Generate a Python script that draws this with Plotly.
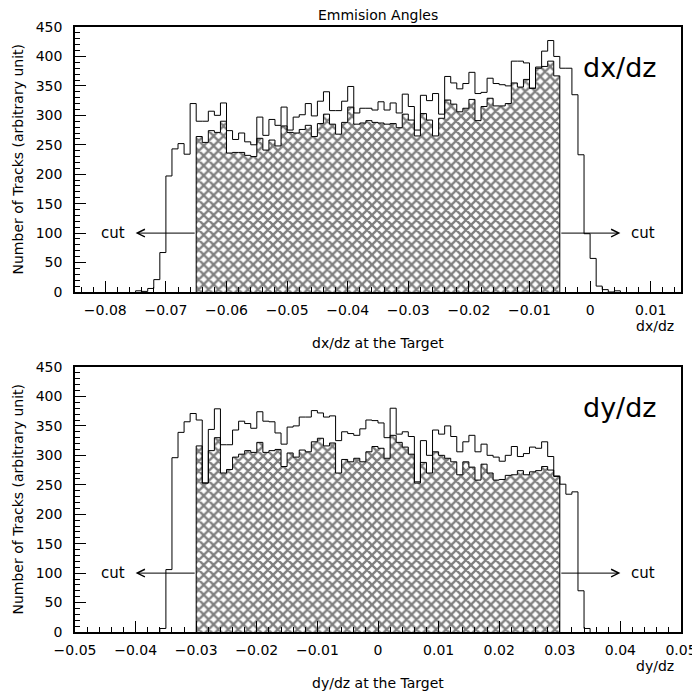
import plotly.graph_objects as go

BIN_W = 0.001

# ---- top panel: dx/dz (all tracks, and tracks inside the cut window) ----
dx_all_start = -0.075
dx_all = [2, 1, 6, 21, 67, 197, 243, 252, 234, 320,
          290, 290, 307, 300, 321, 274, 259, 270, 255, 250,
          297, 266, 293, 283, 314, 275, 297, 301, 320, 299,
          324, 340, 308, 308, 324, 349, 304, 312, 312, 309,
          323, 309, 321, 304, 336, 315, 275, 334, 325, 337,
          302, 366, 355, 345, 354, 373, 337, 339, 363, 354,
          352, 350, 392, 392, 389, 346, 382, 409, 427, 400,
          380, 380, 335, 233, 99, 57, 10, 4, 0, 2]
dx_cut_start = -0.065
dx_cut = [264, 254, 274, 271, 290, 236, 237, 237, 232, 230,
          261, 241, 258, 248, 282, 271, 270, 276, 283, 264,
          286, 302, 285, 268, 288, 314, 285, 287, 291, 288,
          287, 285, 286, 279, 302, 292, 265, 303, 292, 265,
          295, 326, 319, 306, 312, 327, 291, 315, 329, 316,
          316, 320, 355, 348, 361, 346, 380, 383, 392, 367]
dx_cut_lo, dx_cut_hi = -0.065, -0.005
dx_range = [-0.085, 0.015]
dx_ticks = [-0.08, -0.07, -0.06, -0.05, -0.04, -0.03, -0.02, -0.01, 0, 0.01]

# ---- bottom panel: dy/dz ----
dy_all_start = -0.036
dy_all = [6, 106, 296, 339, 357, 371,
          360, 253, 344, 379, 318, 318, 343, 358, 354, 346,
          374, 358, 357, 338, 319, 348, 350, 365, 365, 376,
          372, 365, 367, 325, 340, 337, 334, 345, 360, 359,
          355, 330, 380, 336, 340, 332, 255, 325, 300, 343,
          336, 350, 332, 306, 323, 334, 306, 319, 300, 297,
          290, 300, 315, 298, 303, 314, 312, 323, 298, 265,
          251, 234, 238, 70, 6]
dy_cut_start = -0.030
dy_cut = [316, 253, 308, 330, 270, 276, 297, 302, 308, 305,
          322, 305, 308, 310, 281, 304, 297, 309, 306, 323,
          329, 316, 321, 270, 293, 289, 295, 289, 306, 315,
          312, 295, 334, 322, 314, 302, 253, 288, 270, 306,
          300, 295, 289, 267, 289, 280, 258, 285, 270, 258,
          259, 266, 267, 274, 267, 272, 274, 281, 275, 264]
dy_cut_lo, dy_cut_hi = -0.03, 0.03
dy_range = [-0.05, 0.05]
dy_ticks = [-0.05, -0.04, -0.03, -0.02, -0.01, 0, 0.01, 0.02, 0.03, 0.04, 0.05]

y_ticks = [0, 50, 100, 150, 200, 250, 300, 350, 400, 450]
ARROW_Y = 100
ARROW_LEN = 0.01

FONT = "DejaVu Sans"

# the page body adds an 8px offset, so the figure is 8px smaller than the window
PAGE_OFF = 8


def step_xy(start, values):
    xs, ys = [start], [0]
    for i, v in enumerate(values):
        xs.append(round(start + i * BIN_W, 6))
        ys.append(v)
    end = round(start + len(values) * BIN_W, 6)
    xs += [end, end]
    ys += [values[-1], 0]
    return xs, ys


fig = go.Figure()

hatch = dict(shape="x", size=7, solidity=0.55, fgcolor="black", bgcolor="white")

for (cs, cv, a_s, av, xa, ya) in [
    (dx_cut_start, dx_cut, dx_all_start, dx_all, "x", "y"),
    (dy_cut_start, dy_cut, dy_all_start, dy_all, "x2", "y2"),
]:
    cx, cy = step_xy(cs, cv)
    fig.add_trace(go.Scatter(x=cx, y=cy, mode="lines",
                             line=dict(color="black", width=1, shape="hv"),
                             fill="tozeroy", fillpattern=hatch,
                             xaxis=xa, yaxis=ya, showlegend=False, hoverinfo="skip"))
    axx, axy = step_xy(a_s, av)
    fig.add_trace(go.Scatter(x=axx, y=axy, mode="lines",
                             line=dict(color="black", width=1, shape="hv"),
                             xaxis=xa, yaxis=ya, showlegend=False, hoverinfo="skip"))


def xaxis_cfg(rng, ticks, anchor):
    return dict(range=[rng[0] - 1e-9, rng[1] + 1e-9], tickvals=ticks,
                ticks="inside", ticklen=11, tickcolor="black", tickwidth=1,
                minor=dict(ticks="inside", ticklen=5, dtick=0.002, tick0=ticks[0],
                           tickcolor="black", tickwidth=1),
                showline=True, mirror=True, linecolor="black", linewidth=1.5,
                showgrid=False, zeroline=False, anchor=anchor,
                tickfont=dict(family=FONT, size=14, color="black"),
                ticklabelstandoff=4, automargin=False)


def yaxis_cfg(domain, anchor):
    return dict(range=[0, 450], tickvals=y_ticks, domain=domain,
                ticks="inside", ticklen=11, tickcolor="black", tickwidth=1,
                minor=dict(ticks="inside", ticklen=5, dtick=10, tick0=0,
                           tickcolor="black", tickwidth=1),
                showline=True, mirror=True, linecolor="black", linewidth=1.5,
                showgrid=False, zeroline=False, anchor=anchor,
                tickfont=dict(family=FONT, size=14, color="black"),
                ticklabelstandoff=8, automargin=False)


fig.update_layout(
    width=700 - PAGE_OFF, height=692 - PAGE_OFF,
    margin=dict(l=75 - PAGE_OFF, r=19, t=27 - PAGE_OFF, b=60),
    paper_bgcolor="white", plot_bgcolor="white",
    font=dict(family=FONT, size=14, color="black"),
    xaxis=xaxis_cfg(dx_range, dx_ticks, "y"),
    yaxis=yaxis_cfg([0.562, 1.0], "x"),
    xaxis2=xaxis_cfg(dy_range, dy_ticks, "y2"),
    yaxis2=yaxis_cfg([0.0, 0.438], "x2"),
)

ann = []
txt = dict(family=FONT, size=14, color="black")
ann.append(dict(text="Emmision Angles", xref="paper", yref="paper", x=0.5, y=1,
                yshift=12, showarrow=False, font=txt, xanchor="center", yanchor="middle"))

panels = [
    ("x", "y", "dx/dz", dx_cut_lo, dx_cut_hi),
    ("x2", "y2", "dy/dz", dy_cut_lo, dy_cut_hi),
]
for xa, ya, name, lo, hi in panels:
    # big label
    ann.append(dict(text=name, xref=xa + " domain", yref=ya + " domain",
                    x=0.899, y=0.849, showarrow=False, xanchor="center", yanchor="middle",
                    font=dict(family=FONT, size=27, color="black")))
    # axis labels
    ann.append(dict(text=name, xref=xa + " domain", yref=ya + " domain",
                    x=0.957, y=0, yshift=-34, showarrow=False, font=txt,
                    xanchor="center", yanchor="middle"))
    ann.append(dict(text=name + " at the Target", xref=xa + " domain", yref=ya + " domain",
                    x=0.5, y=0, yshift=-51, showarrow=False, font=txt,
                    xanchor="center", yanchor="middle"))
    ann.append(dict(text="Number of Tracks (arbitrary unit)", xref="paper", yref=ya + " domain",
                    x=0, xshift=-57, y=0.5, textangle=-90, showarrow=False, font=txt,
                    xanchor="center", yanchor="middle"))
    # cut arrows
    for edge, sign in [(lo, -1), (hi, 1)]:
        ann.append(dict(text="", x=edge + sign * ARROW_LEN, y=ARROW_Y, ax=edge, ay=ARROW_Y,
                        xref=xa, yref=ya, axref=xa, ayref=ya, showarrow=True,
                        arrowhead=5, arrowsize=1.5, arrowwidth=1, arrowcolor="black",
                        standoff=0, startstandoff=0))
        ann.append(dict(text="cut", x=edge + sign * (ARROW_LEN + 0.0037), y=ARROW_Y,
                        xref=xa, yref=ya, showarrow=False, xanchor="center",
                        font=dict(family=FONT, size=15, color="black")))

fig.update_layout(annotations=ann)
fig.write_html("out.html")
